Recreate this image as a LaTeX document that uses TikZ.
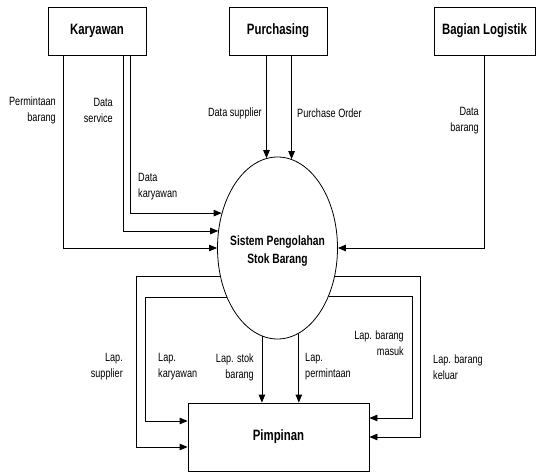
\documentclass[tikz,border=0pt]{standalone}
\usepackage{fontspec}
\setmainfont{Liberation Sans}[FakeStretch=0.76]
\usepackage{tikz}
\usetikzlibrary{arrows.meta, positioning, shapes.geometric}

\begin{document}
\begin{tikzpicture}[x=1pt, y=-1pt,
	entity/.style={draw, line width=0.8pt, minimum width=98pt, minimum height=48pt, inner sep=0pt, font=\fontsize{15}{18}\selectfont\bfseries},
	flow/.style={line width=0.8pt, -{Triangle[length=8pt, width=6.5pt]}},
	lbl/.style={font=\fontsize{12}{16}\selectfont, inner sep=0pt}]
	\useasboundingbox (0,0) rectangle (536,473);
	% external entities
	\node[entity] (kar) at (97,31) {Karyawan};
	\node[entity] (pur) at (278,31) {Purchasing};
	\node[entity, minimum width=101pt] (log) at (484.5,31) {Bagian Logistik};
	% process
	\node[ellipse, draw, line width=0.8pt, minimum width=120pt, minimum height=182pt, inner sep=0pt] (sis) at (277.5,248) {};
	\node[align=center, inner sep=0pt, font=\fontsize{13.5}{18}\selectfont\bfseries] (sistxt) at ([yshift=-3pt]sis.center) {Sistem Pengolahan\\Stok Barang};
	\node[entity, minimum width=181pt, minimum height=68pt] (pim) at (278.5,437) {Pimpinan};

	% flows into the process
	\draw[flow] ([xshift=-34pt]kar.south) |- (sis.west);
	\draw[flow] ([xshift=26pt]kar.south) |- (sis.164);
	\draw[flow] ([xshift=33pt]kar.south) |- (sis.148);
	\draw[flow] (pur.south -| sis.97) -- (sis.97);
	\draw[flow] (pur.south -| sis.81) -- (sis.81);
	\draw[flow] (log.south) |- (sis.east);

	% reports to Pimpinan
	\draw[flow] (sis.206) -| ([xshift=-51pt, yshift=-10pt]pim.west) -- ([yshift=-10pt]pim.west);
	\draw[flow] (sis.224) -| ([xshift=-42pt, yshift=16pt]pim.west) -- ([yshift=16pt]pim.west);
	\draw[flow] (sis.260) -- (sis.260 |- pim.north);
	\draw[flow] (sis.284) -- (sis.284 |- pim.north);
	\draw[flow] (sis.317) -| ([xshift=43pt, yshift=19pt]pim.east) -- ([yshift=19pt]pim.east);
	\draw[flow] (sis.334) -| ([xshift=51pt]pim.east) -- (pim.east);

	% labels
	\node[lbl, anchor=east, align=right] (lperm) at (56,110) {Permintaan\\barang};
	\node[lbl, anchor=east, align=right] (lserv) at (113,110) {Data\\service};
	\node[lbl, anchor=west, align=left] (lkar) at (138,187) {Data\\karyawan};
	\node[lbl, anchor=east] (lsupp) at (262,113) {Data supplier};
	\node[lbl, anchor=west] (lpo) at (297,113) {Purchase Order};
	\node[lbl, anchor=east, align=right] (lbrg) at (479,121) {Data\\barang};
	\node[lbl, anchor=east, align=right] (llsupp) at (123,367) {Lap.\\supplier};
	\node[lbl, anchor=west, align=left] (llkar) at (158,367) {Lap.\\karyawan};
	\node[lbl, anchor=east, align=right] (llstok) at (254,367) {Lap. stok\\barang};
	\node[lbl, anchor=west, align=left] (llperm) at (305,367) {Lap.\\permintaan};
	\node[lbl, anchor=east, align=right] (llmasuk) at (404,343) {Lap. barang\\masuk};
	\node[lbl, anchor=west, align=left] (llkel) at (433,367) {Lap. barang\\keluar};
\end{tikzpicture}
\end{document}
